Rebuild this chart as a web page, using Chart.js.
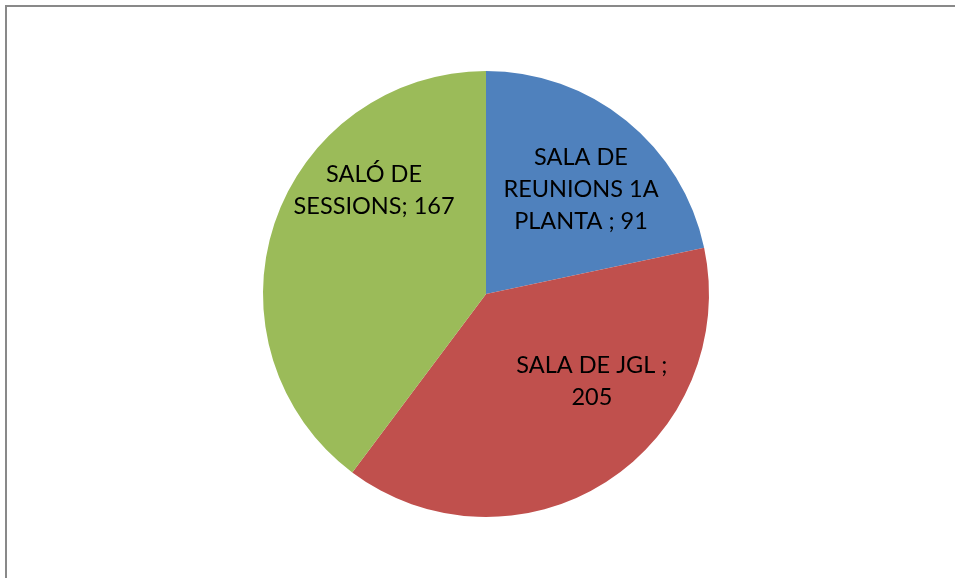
<!DOCTYPE html>
<html>
<head>
<meta charset="utf-8">
<script src="https://cdn.jsdelivr.net/npm/chart.js@4/dist/chart.umd.min.js"></script>
<style>
  html, body { margin: 0; padding: 0; background: #fff; overflow: hidden; }
  #wrap { position: relative; width: 955px; height: 578px; }
  #c { position: absolute; left: 0; top: 0; }
  #frame { position: absolute; left: 5px; top: 5px; width: 2000px; height: 2000px;
           border: 2px solid #898989; box-sizing: border-box; pointer-events: none; }
</style>
</head>
<body>
<div id="wrap">
  <canvas id="c" width="955" height="578"></canvas>
  <div id="frame"></div>
</div>
<script>
const categories = ["SALA DE REUNIONS 1A PLANTA ", "SALA DE JGL ", "SALÓ DE SESSIONS"];
const sliceValues = [91, 162, 167];
// values as printed in the reference's data labels
const labelValues = [91, 205, 167];
const sliceColors = ["#4F81BD", "#C0504D", "#9BBB59"];

// label placement relative to pie centre, in units of radius
const labelOffsets = [[0.426, -0.471], [0.475, 0.39], [-0.502, -0.466]];
const labelFont = "23.5px Lato";
const lineHeight = 32;
const wrapWidth = 165;

function wrapText(ctx, text, maxW) {
  const words = text.split(/\s+/).filter(w => w.length);
  const lines = [];
  let cur = "";
  for (const w of words) {
    const t = cur ? cur + " " + w : w;
    if (cur && ctx.measureText(t).width > maxW) { lines.push(cur); cur = w; }
    else cur = t;
  }
  if (cur) lines.push(cur);
  return lines;
}

const labelPlugin = {
  id: 'pieLabels',
  afterDatasetsDraw(chart) {
    const ctx = chart.ctx;
    const meta = chart.getDatasetMeta(0);
    ctx.save();
    ctx.font = labelFont;
    ctx.fillStyle = "#000";
    ctx.textAlign = "center";
    ctx.textBaseline = "middle";
    meta.data.forEach((arc, i) => {
      const r = arc.outerRadius;
      const cx = arc.x + labelOffsets[i][0] * r;
      const cy = arc.y + labelOffsets[i][1] * r;
      const text = categories[i] + "; " + labelValues[i];
      const lines = wrapText(ctx, text, wrapWidth);
      const y0 = cy - (lines.length - 1) * lineHeight / 2;
      lines.forEach((ln, k) => ctx.fillText(ln, cx, y0 + k * lineHeight));
    });
    ctx.restore();
  }
};

new Chart(document.getElementById('c'), {
  type: 'pie',
  data: {
    labels: categories,
    datasets: [{
      data: sliceValues,
      backgroundColor: sliceColors,
      borderWidth: 0
    }]
  },
  options: {
    responsive: false,
    animation: false,
    layout: { padding: { left: 263, right: 246, top: 71, bottom: 61 } },
    plugins: { legend: { display: false }, tooltip: { enabled: false } }
  },
  plugins: [labelPlugin]
});
</script>
</body>
</html>
